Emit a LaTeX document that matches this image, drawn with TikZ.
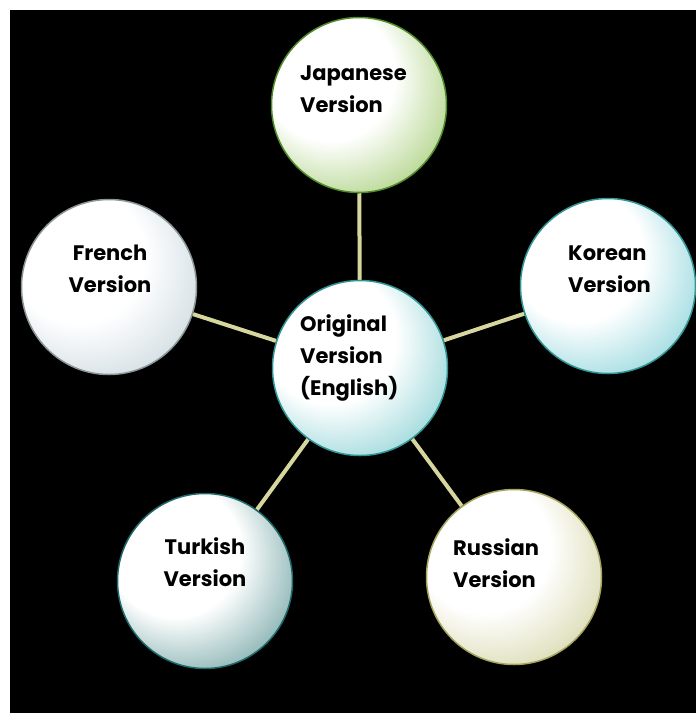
\documentclass[tikz,border=0pt]{standalone}
\usepackage{fontspec}
\setmainfont{Poppins}
\pgfdeclarelayer{bg}
\pgfsetlayers{bg,main}
\definecolor{linkcol}{RGB}{214,214,158}
\definecolor{jpcol}{RGB}{120,180,50}
\definecolor{jpedge}{RGB}{80,140,40}
\definecolor{orcol}{RGB}{80,185,190}
\definecolor{oredge}{RGB}{50,150,150}
\definecolor{frcol}{RGB}{175,195,205}
\definecolor{fredge}{RGB}{140,150,150}
\definecolor{kocol}{RGB}{80,190,200}
\definecolor{koedge}{RGB}{50,150,150}
\definecolor{rucol}{RGB}{190,190,120}
\definecolor{ruedge}{RGB}{165,165,95}
\definecolor{tucol}{RGB}{40,115,115}
\definecolor{tuedge}{RGB}{30,105,105}
\newcommand\mkshade[2]{\pgfdeclareradialshading{#1}{\pgfpoint{-14bp}{14bp}}{color(0bp)=(white);color(19bp)=(white);color(31bp)=(#2!45!white);color(43bp)=(#2);color(50bp)=(#2)}}
\mkshade{shjp}{jpcol}
\mkshade{shor}{orcol}
\mkshade{shfr}{frcol}
\mkshade{shko}{kocol}
\mkshade{shru}{rucol}
\mkshade{shtu}{tucol}
\tikzset{
  bubble/.style={circle, minimum size=175pt, inner sep=0pt, line width=1.5pt, shade, shading=#1},
  lbl/.style={inner sep=0pt, font=\fontsize{21}{32}\selectfont\bfseries, text=black},
  link/.style={draw=linkcol, line width=4pt}
}
\begin{document}
\begin{tikzpicture}[x=1pt,y=-1pt]
\useasboundingbox (0,0) rectangle (696,713);
\begin{pgfonlayer}{bg}
\fill[white] (0,0) rectangle (696,713);
\fill[black] (10,10) rectangle (696,713);
\end{pgfonlayer}
\node[bubble=shjp, draw=jpedge] (jp) at (359,105) {};
\node[bubble=shor, draw=oredge] (or) at (360,368) {};
\node[bubble=shfr, draw=fredge] (fr) at (109,287) {};
\node[bubble=shko, draw=koedge] (ko) at (608,286) {};
\node[bubble=shru, draw=ruedge] (ru) at (514,577) {};
\node[bubble=shtu, draw=tuedge] (tu) at (205,581) {};
\begin{pgfonlayer}{bg}
\draw[link] (or) -- (jp);
\draw[link] (or) -- (fr);
\draw[link] (or) -- (ko);
\draw[link] (or) -- (ru);
\draw[link] (or) -- (tu);
\end{pgfonlayer}
\node[lbl, align=left, anchor=north west] (jpt) at (300,66) {Japanese\\Version};
\node[lbl, align=left, anchor=north west] (ort) at (300,314) {Original\\Version\\(English)};
\node[lbl, align=center, anchor=north] (frt) at (110,245) {French\\Version};
\node[lbl, align=left, anchor=north west] (kot) at (568,246) {Korean\\Version};
\node[lbl, align=center, anchor=north] (tut) at (205,537) {Turkish\\Version};
\node[lbl, align=left, anchor=north west] (rut) at (453,538) {Russian\\Version};
\end{tikzpicture}
\end{document}
